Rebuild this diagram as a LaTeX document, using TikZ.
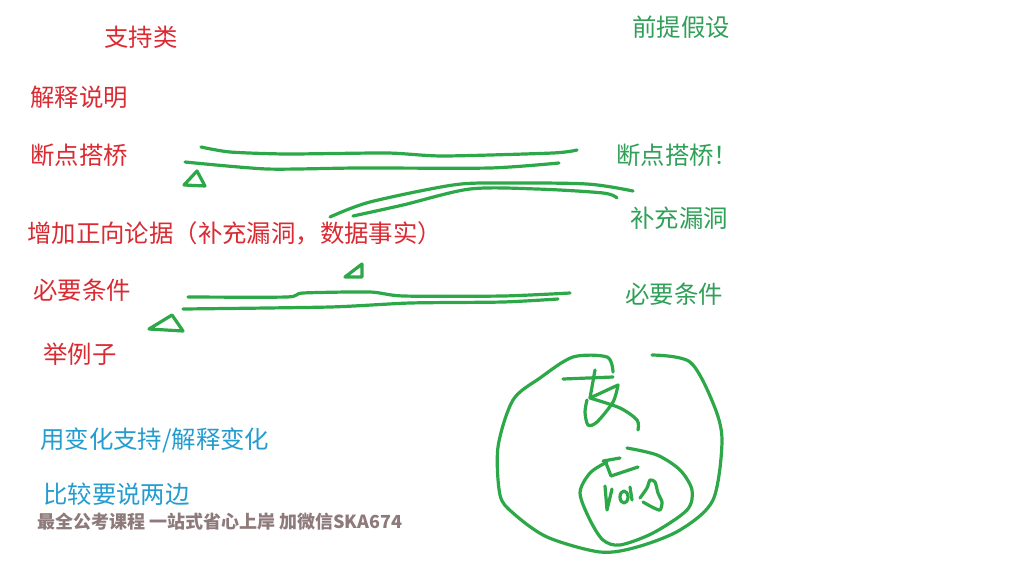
\documentclass[tikz,border=0pt]{standalone}
\usepackage{fontspec}
\setmainfont{Noto Sans CJK SC}
\usetikzlibrary{positioning}
\definecolor{inkred}{RGB}{218,42,50}
\definecolor{inkgreen}{RGB}{48,160,88}
\definecolor{inkblue}{RGB}{36,156,208}
\definecolor{penstroke}{RGB}{44,168,72}
\definecolor{markgray}{RGB}{142,122,122}
\tikzset{
  word/.style={anchor=west,inner sep=0pt,font=\fontsize{24.4}{28}\selectfont},
  redword/.style={word,text=inkred},
  greenword/.style={word,text=inkgreen},
  blueword/.style={word,text=inkblue},
  stamp/.style={anchor=west,inner sep=0pt,text=markgray,font=\fontsize{18}{20}\selectfont\bfseries},
  pen/.style={draw=penstroke,line width=3.2pt,line cap=round,line join=round},
}

\begin{document}
\begin{tikzpicture}[x=1pt,y=-1pt]
  \path[use as bounding box,fill=white] (0,0) rectangle (1024,576);

  % left column
  \node[redword] (support) at (104,37) {支持类};
  \node[redword] (explain) at (30,97) {解释说明};
  \node[redword] (bridge) at (30,155) {断点搭桥};
  \node[redword] (addarg) at (27,233) {增加正向论据（补充漏洞，数据事实）};
  \node[redword] (needed) at (33,290) {必要条件};
  \node[redword] (example) at (43,354) {举例子};
  \node[blueword] (change) at (40,440) {用变化支持/解释变化};
  \node[blueword] (compare) at (43,494) {比较要说两边};
  \node[stamp] (ad) at (37,522) {最全公考课程 一站式省心上岸 加微信SKA674};

  % right column
  \node[greenword] (premise) at (632,27) {前提假设};
  \node[greenword] (bridge2) at (616,155) {断点搭桥！};
  \node[greenword] (gap) at (630,218) {补充漏洞};
  \node[greenword] (needed2) at (625,294) {必要条件};

  % strokes
  \draw[pen] plot[smooth,tension=0.4] coordinates {(201,147) (230,152) (287,154) (387,153) (443,156) (553,153) (577,150)};
  \draw[pen] plot[smooth,tension=0.4] coordinates {(185,162) (267,169) (357,168) (490,168) (559,163)};
  \draw[pen] (197,171) -- (184,185) -- (205,186) -- cycle;

  \draw[pen] plot[smooth,tension=0.5] coordinates {(330,217) (370,202) (453,185) (503,183) (587,184) (633,191)};
  \draw[pen] plot[smooth,tension=0.5] coordinates {(353,216) (403,205) (470,189) (537,189) (603,193) (617,198)};
  \draw[pen] (345,277) -- (362,264) -- (362,277) -- cycle;

  \draw[pen] plot[smooth,tension=0.4] coordinates {(188,297) (287,297) (303,293) (370,292) (403,296) (503,296) (570,293)};
  \draw[pen] plot[smooth,tension=0.4] coordinates {(183,309) (330,307) (410,303) (503,302) (558,299)};
  \draw[pen] (172,315) -- (149,329) -- (183,331) -- cycle;

  % big loop
  \draw[pen] plot[smooth,tension=0.5] coordinates {(613,372) (607,357) (573,357) (540,378) (513,400) (498,447) (500,495) (513,513) (547,537) (600,552) (637,547) (680,530) (713,500) (722,440) (713,403) (690,362) (652,355)};
  % 支
  \draw[pen] (563,379) -- (613,377);
  \draw[pen] (595,370) -- (590,398) -- (618,385);
  \draw[pen] plot[smooth,tension=0.5] coordinates {(618,385) (613,402) (597,422) (588,425) (585,412) (587,400)};
  \draw[pen] plot[smooth,tension=0.5] coordinates {(590,398) (620,408) (637,420) (638,430)};

  % small loop
  \draw[pen] plot[smooth,tension=0.5] coordinates {(627,448) (657,455) (680,470) (692,490) (687,510) (653,533) (620,545) (603,540) (590,520) (580,493) (590,473) (607,462)};
  % 前
  \draw[pen] (603,461) -- (620,458);
  \draw[pen] (606,463) -- (611,476) -- (638,467);
  \draw[pen] (605,486) -- (607,510) -- (612,489);
  \draw[pen] (624,497) ellipse [x radius=4,y radius=6];
  \draw[pen] (630,487) -- (632,500);
  \draw[pen] plot[smooth,tension=0.4] coordinates {(640,498) (647,488) (650,480) (655,482) (658,493) (662,502) (660,510) (652,507) (643,502)};
\end{tikzpicture}
\end{document}
